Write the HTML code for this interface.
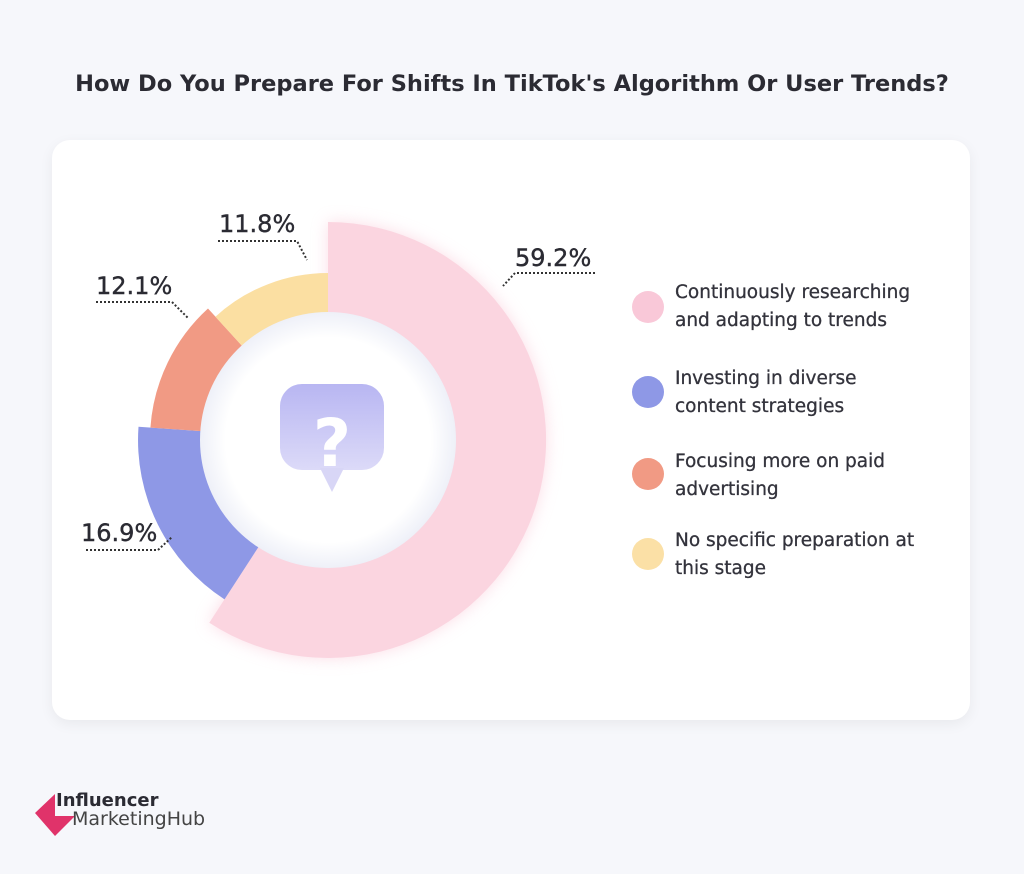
<!DOCTYPE html>
<html><head><meta charset="utf-8"><style>
body{margin:0;background:#f6f7fb;font-family:"DejaVu Sans","Liberation Sans",sans-serif;}
.wrap{position:relative;width:1024px;height:874px;overflow:hidden}
h1{position:absolute;top:71px;left:0;width:1024px;text-align:center;margin:0;font-size:22.5px;font-weight:bold;color:#2b2b33;letter-spacing:0px}
.card{position:absolute;left:52px;top:140px;width:918px;height:580px;background:#fff;border-radius:18px;box-shadow:0 4px 14px rgba(0,0,0,0.06)}
.leg{position:absolute;left:675px;font-size:18.5px;color:#33333c;line-height:28px;-webkit-text-stroke:0.3px #33333c}
.dot{position:absolute;left:632px;width:32px;height:32px;border-radius:50%}
</style></head><body><div class="wrap">
<h1>How Do You Prepare For Shifts In TikTok's Algorithm Or User Trends?</h1>
<div class="card"></div>
<svg width="1024" height="874" style="position:absolute;left:0;top:0">
<defs>
<radialGradient id="ig" cx="0.5" cy="0.5" r="0.5"><stop offset="0.8" stop-color="#fff"/><stop offset="1" stop-color="#eef0f8"/></radialGradient>
<linearGradient id="q" x1="0" y1="0" x2="0" y2="1"><stop offset="0" stop-color="#b8b6f2"/><stop offset="1" stop-color="#dcdaf8"/></linearGradient>
<filter id="bl" x="-20%" y="-20%" width="140%" height="140%"><feGaussianBlur stdDeviation="8"/></filter>
</defs>
<path d="M328,222 A218,218 0 1 1 209.3,622.8 L258.8,546.5 A127,127 0 1 0 328,313 Z" fill="#f9c6d6" filter="url(#bl)" opacity="0.6"/>
<path d="M328,222 A218,218 0 1 1 209.3,622.8 L258.8,546.5 A127,127 0 1 0 328,313 Z" fill="#fbd5e0"/>
<path d="M224.5,599.4 A190,190 0 0 1 138.5,426.7 L201.3,431.1 A127,127 0 0 0 258.8,546.5 Z" fill="#8e98e6"/>
<path d="M150.4,427.6 A178,178 0 0 1 208,308.5 L242.4,346.2 A127,127 0 0 0 201.3,431.1 Z" fill="#f19a84"/>
<path d="M215.4,316.7 A167,167 0 0 1 328,273 L328,313 A127,127 0 0 0 242.4,346.2 Z" fill="#fbdfa2"/>
<circle cx="328" cy="440" r="128" fill="url(#ig)"/>
<rect x="280" y="384" width="104" height="86" rx="22" fill="url(#q)"/>
<path d="M320,468 L332,492 L344,468 Z" fill="#d8d6f6"/>
<text x="332" y="466" text-anchor="middle" font-family="DejaVu Sans,sans-serif" font-weight="bold" font-size="66" fill="#fff">?</text>
<g font-family="DejaVu Sans,sans-serif" font-size="24" fill="#2b2b33" stroke="#2b2b33" stroke-width="0.4">
<text x="219" y="232">11.8%</text>
<text x="96" y="294">12.1%</text>
<text x="81" y="541">16.9%</text>
<text x="515" y="266">59.2%</text>
</g>
<g stroke="#333" stroke-width="2" stroke-dasharray="2,2" fill="none">
<path d="M218,241 L297,241 L307,260"/>
<path d="M96,302 L172,302 L188,318"/>
<path d="M86,550 L158,550 L172,537"/>
<path d="M595,273 L515,273 L503,286"/>
</g>
</svg>
<div class="dot" style="top:291px;background:#f9c8d8"></div>
<div class="leg" style="top:279px">Continuously researching<br>and adapting to trends</div>
<div class="dot" style="top:376px;background:#8e98e6"></div>
<div class="leg" style="top:365px">Investing in diverse<br>content strategies</div>
<div class="dot" style="top:458px;background:#f19a84"></div>
<div class="leg" style="top:448px">Focusing more on paid<br>advertising</div>
<div class="dot" style="top:538px;background:#fbe0a6"></div>
<div class="leg" style="top:527px">No specific preparation at<br>this stage</div>
<svg width="60" height="50" style="position:absolute;left:30px;top:790px"><path d="M5,23 L25,4 L25,26 L45,26 L25,46 Z" fill="#e0336a"/></svg>
<div style="position:absolute;left:56px;top:791px;font-size:18px;font-weight:bold;color:#2b2b33;line-height:20px">Influencer</div>
<div style="position:absolute;left:72px;top:809px;font-size:19px;color:#444;line-height:20px">MarketingHub</div>
</div></body></html>
